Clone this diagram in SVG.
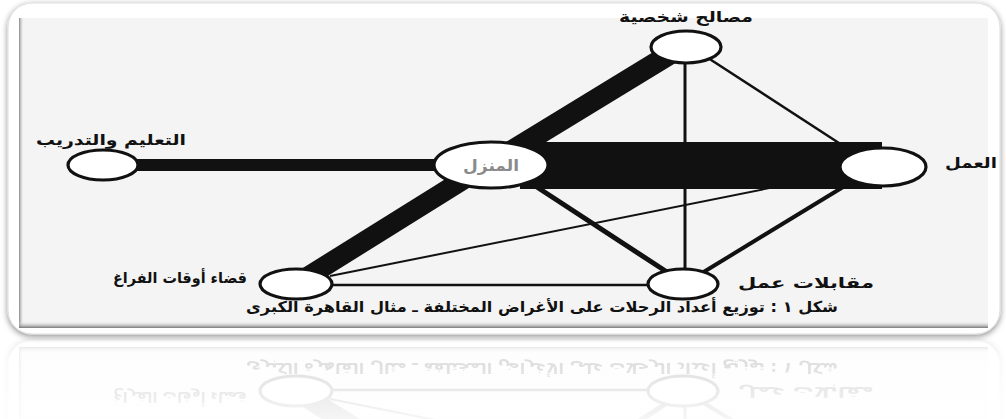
<svg xmlns="http://www.w3.org/2000/svg" xmlns:xlink="http://www.w3.org/1999/xlink" width="1006" height="419" viewBox="0 0 1006 419">
<defs>
<style>
.lbl{font-family:"DejaVu Sans","Noto Sans",sans-serif;font-weight:bold;font-size:15px;fill:#111;text-anchor:middle}
.node{fill:#fff;stroke:#111;stroke-width:3.2}
.edge{stroke:#111;fill:none}
</style>
<filter id="sh" x="-5%" y="-5%" width="110%" height="120%">
<feGaussianBlur in="SourceAlpha" stdDeviation="3"/>
<feOffset dx="0" dy="2"/>
<feComponentTransfer><feFuncA type="linear" slope="0.45"/></feComponentTransfer>
<feMerge><feMergeNode/><feMergeNode in="SourceGraphic"/></feMerge>
</filter>
<linearGradient id="lshade" x1="0" y1="0" x2="1" y2="0">
<stop offset="0" stop-color="#888"/><stop offset="1" stop-color="#f4f4f4" stop-opacity="0"/>
</linearGradient>
<linearGradient id="bshade" x1="0" y1="1" x2="0" y2="0">
<stop offset="0" stop-color="#777"/><stop offset="1" stop-color="#f4f4f4" stop-opacity="0"/>
</linearGradient>
<linearGradient id="fadeg" x1="0" y1="0" x2="0" y2="1">
<stop offset="0" stop-color="#fff" stop-opacity="0.5"/><stop offset="1" stop-color="#fff" stop-opacity="0.12"/>
</linearGradient>
<mask id="fade" maskUnits="userSpaceOnUse" x="0" y="338" width="1006" height="81">
<rect x="0" y="338" width="1006" height="81" fill="url(#fadeg)"/>
</mask>
</defs>
<rect width="1006" height="419" fill="#fff"/>
<g id="scene">
<g id="frame">
<rect x="8" y="3" width="992" height="331" rx="24" fill="#fff" stroke="#ddd" stroke-width="1" filter="url(#sh)"/>
<rect x="19" y="18" width="969" height="310" fill="#f4f4f4"/>
<rect x="19" y="18" width="5" height="310" fill="url(#lshade)"/>
<rect x="19" y="321" width="969" height="7" fill="url(#bshade)"/>
</g>
<g id="connectors">
<line class="edge" x1="136" y1="165" x2="440" y2="165" stroke-width="12"/>
<rect x="520" y="142" width="362" height="47" fill="#111"/>
<line class="edge" x1="495" y1="161" x2="680" y2="48" stroke-width="21"/>
<line class="edge" x1="296" y1="284" x2="482" y2="168" stroke-width="20"/>
<line class="edge" x1="685" y1="55" x2="685" y2="272" stroke-width="3"/>
<line class="edge" x1="705" y1="56" x2="842" y2="145" stroke-width="2.5"/>
<line class="edge" x1="520" y1="176" x2="670" y2="274" stroke-width="5"/>
<line class="edge" x1="848" y1="184" x2="702" y2="273" stroke-width="4"/>
<line class="edge" x1="330" y1="276" x2="850" y2="172" stroke-width="2"/>
<line class="edge" x1="330" y1="285" x2="650" y2="285" stroke-width="2.5"/>
</g>
<g id="n-top"><ellipse class="node" cx="686" cy="47" rx="35" ry="16"/><text class="lbl" x="686" y="22" textLength="134" lengthAdjust="spacingAndGlyphs">مصالح شخصية</text></g>
<g id="n-left"><ellipse class="node" cx="103" cy="165" rx="35" ry="15"/><text class="lbl" x="111" y="145" textLength="150" lengthAdjust="spacingAndGlyphs">التعليم والتدريب</text></g>
<g id="n-home"><ellipse class="node" cx="491" cy="165" rx="57" ry="23"/><text class="lbl" x="491" y="171" textLength="56" lengthAdjust="spacingAndGlyphs" style="fill:#8a8a8a;font-size:16px">المنزل</text></g>
<g id="n-work"><ellipse class="node" cx="883" cy="167" rx="43" ry="19"/><text class="lbl" x="971" y="168" textLength="52" lengthAdjust="spacingAndGlyphs">العمل</text></g>
<g id="n-leisure"><ellipse class="node" cx="296" cy="284" rx="36" ry="15"/><text class="lbl" x="180" y="283" textLength="134" lengthAdjust="spacingAndGlyphs">قضاء أوقات الفراغ</text></g>
<g id="n-interview"><ellipse class="node" cx="683" cy="284" rx="35" ry="15"/><text class="lbl" x="806" y="288" textLength="136" lengthAdjust="spacingAndGlyphs">مقابلات عمل</text></g>
<text class="lbl" x="542" y="312" textLength="592" lengthAdjust="spacingAndGlyphs">شكل ١ : توزيع أعداد الرحلات على الأغراض المختلفة ـ مثال القاهرة الكبرى</text>
</g>
<g id="reflection" mask="url(#fade)">
<use xlink:href="#scene" transform="matrix(1,0,0,-1,0,675)" opacity="0.35"/>
</g>
</svg>
